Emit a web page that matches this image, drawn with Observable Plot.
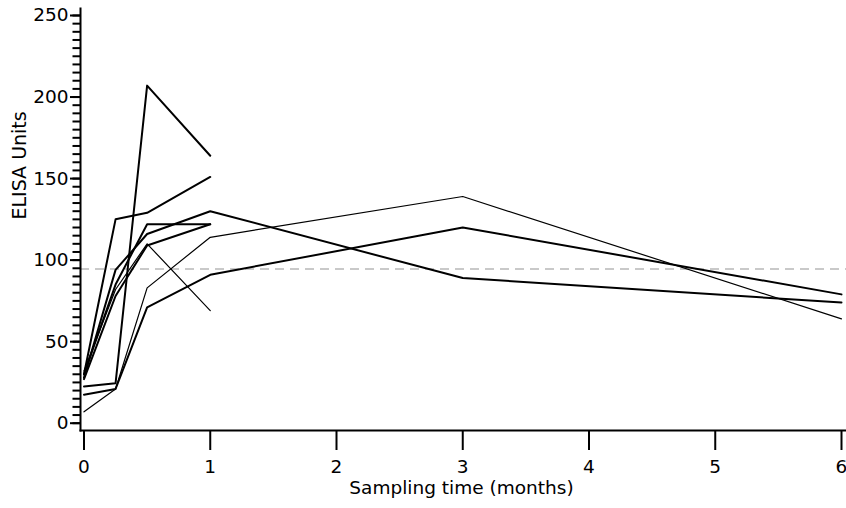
<!DOCTYPE html>
<html><head><meta charset="utf-8">
<script src="https://cdn.jsdelivr.net/npm/d3@7"></script>
<script src="https://cdn.jsdelivr.net/npm/@observablehq/plot@0.6"></script>
<style>body{margin:0;background:#fff;}</style>
</head><body><div id="chart"></div>
<script>
// Sampling times (months)
const times = [0, 0.25, 0.5, 1, 3, 6];
// ELISA units per subject (values at successive sampling times)
const subject1 = [22.5, 24.5, 207, 164];
const subject2 = [30, 125, 129, 151];
const subject3 = [30, 85, 122, 122];
const subject4 = [27, 78, 109, 122];
const subject5 = [32, 82, 110, 69];
const subject6 = [28, 94, 116, 130, 89, 74];
const subject7 = [7, 21, 83, 114, 139, 64];
const subject8 = [17.5, 21, 71, 91, 120, 79];
const thickSubjects = [1, 2, 3, 4, 6, 8];
const cutoff = [94.5];
const yMajorTicks = [0, 50, 100, 150, 200, 250];
const yMinorTicks = d3.range(0, 251, 5);
const xTicks = [0, 1, 2, 3, 4, 5, 6];
const xLabel = "Sampling time (months)";
const yLabel = "ELISA Units";

const subjects = [subject1, subject2, subject3, subject4, subject5, subject6, subject7, subject8];
const rows = subjects.flatMap((vals, i) => vals.map((v, j) => ({id: i + 1, t: times[j], v})));
const thick = rows.filter(d => thickSubjects.includes(d.id));
const thin = rows.filter(d => !thickSubjects.includes(d.id));

const chart = Plot.plot({
  width: 846,
  height: 508,
  marginLeft: 80,
  marginRight: 0,
  marginTop: 8,
  marginBottom: 78,
  style: {fontFamily: "DejaVu Sans", fontSize: "18px", background: "#fff", color: "#000"},
  x: {domain: [0, 6], insetLeft: 3.5, insetRight: 5},
  y: {domain: [0, 250], insetTop: 7, insetBottom: 7.3},
  marks: [
    Plot.ruleY(cutoff, {stroke: "#b8b8b8", strokeWidth: 1.5, strokeDasharray: "9,6"}),
    Plot.line(thin, {x: "t", y: "v", z: "id", stroke: "#000", strokeWidth: 1.2}),
    Plot.line(thick, {x: "t", y: "v", z: "id", stroke: "#000", strokeWidth: 2}),
    Plot.axisY(yMinorTicks, {tickSize: 7.5, text: null, strokeWidth: 2, label: null}),
    Plot.axisY(yMajorTicks, {tickSize: 10, tickPadding: 2, strokeWidth: 2, fontSize: 18.5, tickFormat: d => String(d), label: null}),
    Plot.axisX(xTicks, {tickSize: 20, tickPadding: 9, strokeWidth: 2, fontSize: 18.5, tickFormat: d => String(d), label: null}),
    Plot.frame({anchor: "left", strokeWidth: 2}),
    Plot.frame({anchor: "bottom", strokeWidth: 2}),
    Plot.text([yLabel], {frameAnchor: "left", dx: -61, rotate: -90, fontSize: 19}),
    Plot.text([xLabel], {frameAnchor: "bottom", dy: 63, dx: -2, fontSize: 18.5})
  ]
});
document.getElementById("chart").appendChild(chart);
</script>
</body></html>
